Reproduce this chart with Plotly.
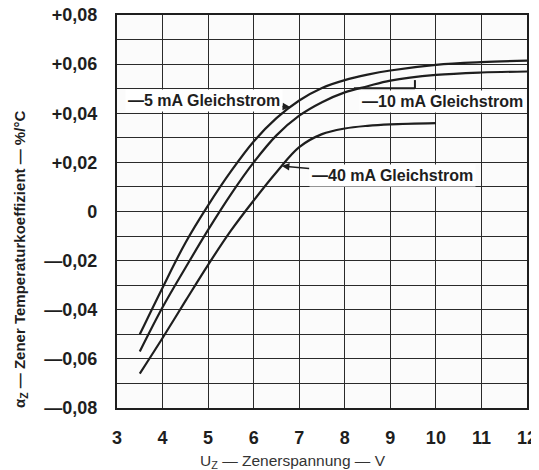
import plotly.graph_objects as go

# Zener voltage (V) sample points and temperature coefficient (%/°C)
u_5 = [3.5, 4, 4.5, 5, 5.5, 6, 6.5, 7, 7.5, 8, 8.5, 9, 10, 11, 12]
tc_5 = [-0.050, -0.031, -0.0128, 0.0025, 0.0163, 0.0285, 0.0380, 0.0452,
        0.0503, 0.0535, 0.0557, 0.0574, 0.0597, 0.0608, 0.0614]

u_10 = [3.5, 4, 4.5, 5, 5.5, 6, 6.5, 7, 7.5, 8, 8.5, 9, 10, 11, 12]
tc_10 = [-0.057, -0.039, -0.023, -0.0075, 0.007, 0.020, 0.031, 0.039,
         0.0445, 0.0485, 0.051, 0.0533, 0.0556, 0.0566, 0.057]

u_40 = [3.5, 4, 4.5, 5, 5.5, 6, 6.5, 7, 7.5, 8, 8.5, 9, 10]
tc_40 = [-0.066, -0.0515, -0.0365, -0.0217, -0.0078, 0.0045, 0.0160, 0.0262,
         0.0315, 0.0338, 0.0349, 0.0355, 0.0360]

x_ticks = [3, 4, 5, 6, 7, 8, 9, 10, 11, 12]
y_grid = [-0.08, -0.07, -0.06, -0.05, -0.04, -0.03, -0.02, -0.01, 0,
          0.01, 0.02, 0.03, 0.04, 0.05, 0.06, 0.07, 0.08]
y_labels = ["—0,08", "", "—0,06", "", "—0,04", "", "—0,02", "", "0",
            "", "+0,02", "", "+0,04", "", "+0,06", "", "+0,08"]

FONT = "Liberation Sans"
INK = "#1e1e1e"

fig = go.Figure()
for xs, ys in [(u_5, tc_5), (u_10, tc_10), (u_40, tc_40)]:
    fig.add_trace(go.Scatter(x=xs, y=ys, mode="lines",
                             line=dict(color=INK, width=2.2, shape="spline", smoothing=1.0),
                             showlegend=False, hoverinfo="skip"))

# page body has an 8px default margin: margins are reduced by 8px to compensate
fig.update_layout(
    width=539, height=470,
    margin=dict(l=109, r=20, t=7, b=70, autoexpand=False),
    paper_bgcolor="white", plot_bgcolor="#fbfbfb",
    font=dict(family=FONT, color=INK),
    showlegend=False,
)
fig.update_xaxes(range=[3, 12], tickvals=x_ticks, ticktext=[str(v) for v in x_ticks],
                 showgrid=True, gridcolor="#2a2a2a", gridwidth=1.4,
                 showline=True, mirror=True, linecolor=INK, linewidth=2.2,
                 ticks="", zeroline=False, ticklabelstandoff=12, automargin=False,
                 ticklabeloverflow="allow",
                 tickfont=dict(size=18, weight="bold", family=FONT, color=INK))
fig.update_yaxes(range=[-0.08, 0.08], tickvals=y_grid, ticktext=y_labels,
                 showgrid=True, gridcolor="#2a2a2a", gridwidth=1.4,
                 showline=True, mirror=True, linecolor=INK, linewidth=2.2,
                 ticks="", zeroline=False, ticklabelstandoff=14, automargin=False,
                 ticklabeloverflow="allow",
                 tickfont=dict(size=18, weight="bold", family=FONT, color=INK))

lab_font = dict(size=16, family=FONT, color=INK, weight="bold")
fig.add_annotation(x=6.80, y=0.0425, ax=4.91, ay=0.0451, axref="x", ayref="y",
                   xref="x", yref="y", text="—5 mA Gleichstrom", font=lab_font,
                   bgcolor="white", borderpad=2, showarrow=True,
                   arrowhead=2, arrowsize=1, arrowwidth=1.5, arrowcolor=INK)
fig.add_annotation(x=10.155, y=0.0447, xref="x", yref="y",
                   text="—10 mA Gleichstrom", font=lab_font,
                   bgcolor="white", borderpad=2, showarrow=False)
fig.add_annotation(x=6.62, y=0.0185, ax=9.04, ay=0.0146, axref="x", ayref="y",
                   xref="x", yref="y", text="—40 mA Gleichstrom", font=lab_font,
                   bgcolor="white", borderpad=2, showarrow=True,
                   arrowhead=2, arrowsize=1, arrowwidth=1.5, arrowcolor=INK)
# leader for 10 mA label
fig.add_shape(type="line", x0=8.2, x1=9.54, y0=0.0502, y1=0.0502,
              xref="x", yref="y", line=dict(color=INK, width=2))
fig.add_shape(type="line", x0=9.54, x1=9.54, y0=0.0502, y1=0.0535,
              xref="x", yref="y", line=dict(color=INK, width=2))

fig.add_annotation(x=-0.2366, y=0.379, xref="paper", yref="paper",
                   text="α<sub>Z</sub> — Zener Temperaturkoeffizient — %/°C",
                   textangle=-90, showarrow=False, xanchor="center", yanchor="middle",
                   font=dict(size=15, family=FONT, color=INK, weight="bold"))
fig.add_annotation(x=0.429, y=-0.137, xref="paper", yref="paper",
                   text="U<sub>Z</sub> — Zenerspannung — V",
                   showarrow=False, xanchor="center", yanchor="middle",
                   font=dict(size=15.5, family=FONT, color="#333"))

fig.write_html("out.html")
